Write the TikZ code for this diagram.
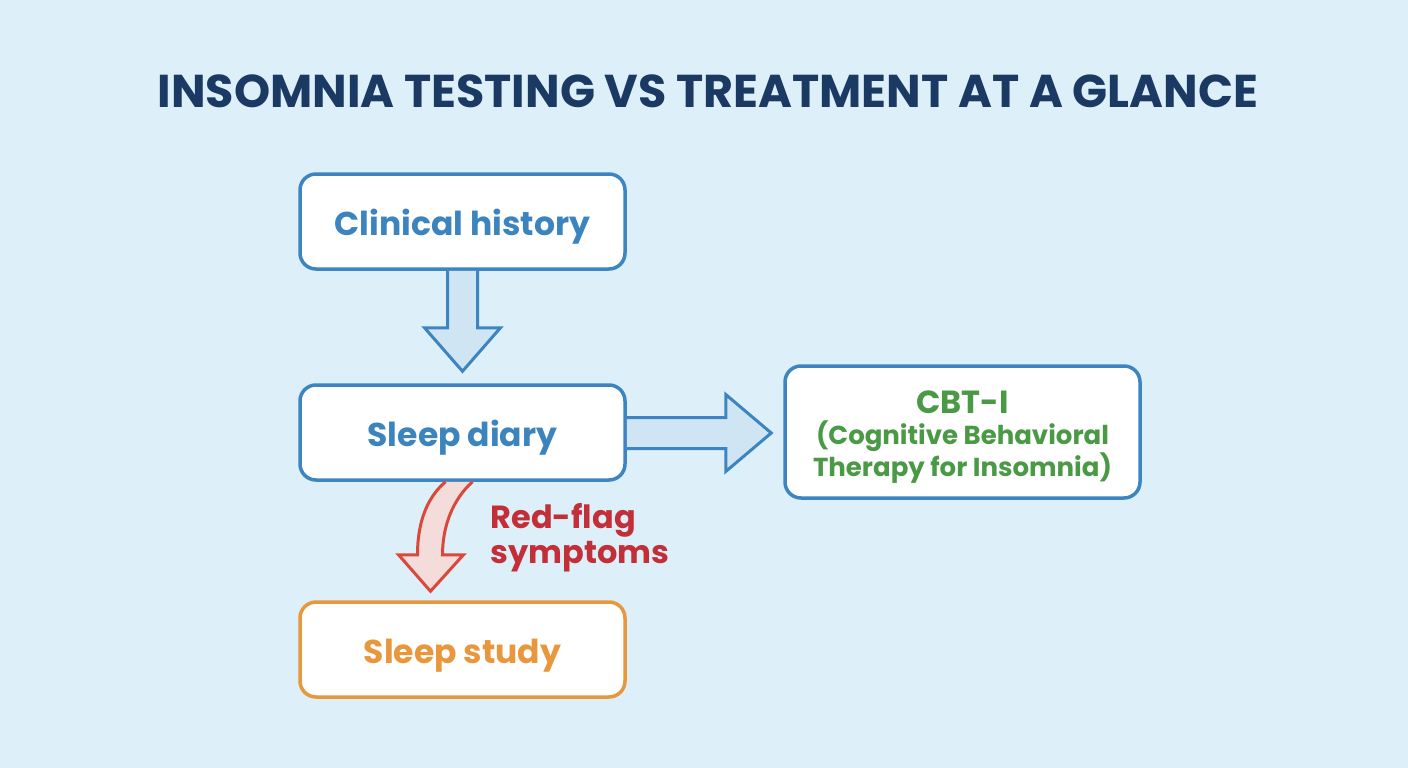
\documentclass[tikz,border=0pt]{standalone}
\usepackage{fontspec}
\setmainfont{Poppins}
\usetikzlibrary{calc, positioning}

\definecolor{bgblue}{HTML}{DDEFF8}
\definecolor{navy}{HTML}{1B3A63}
\definecolor{boxblue}{HTML}{3D85C1}
\definecolor{txtblue}{HTML}{3C84BE}
\definecolor{arrfill}{HTML}{D0E5F3}
\definecolor{orng}{HTML}{E9973C}
\definecolor{grn}{HTML}{4A9A45}
\definecolor{redline}{HTML}{D9483A}
\definecolor{redtxt}{HTML}{C22F38}
\definecolor{pinkfill}{HTML}{F3DCDA}

\begin{document}
\begin{tikzpicture}[x=1pt, y=-1pt,
    stepbox/.style={draw=boxblue, line width=3.5pt, fill=white, rounded corners=16pt,
        minimum width=325pt, minimum height=95pt, text=txtblue,
        text height=34pt, text depth=6pt,
        font=\bfseries\fontsize{33}{38}\selectfont},
    blockarrow/.style={draw=boxblue, line width=3pt, fill=arrfill, line join=miter}
]
    % Fondo
    \fill[bgblue] (0,0) rectangle (1408,768);
    % Titulo
    \node[text=navy, font=\bfseries\fontsize{46}{52}\selectfont] (title) at (708,91)
        {INSOMNIA TESTING VS TREATMENT AT A GLANCE};
    % Cajas
    \node[stepbox] (hist) at (462.5,221.5) {Clinical history};
    \node[stepbox] (diary) at (462.5,432.5) {Sleep diary};
    \node[stepbox, draw=orng, text=orng] (study) at (462.5,649.5) {Sleep study};
    \node[stepbox, minimum width=355pt, minimum height=132pt] (cbt) at (962.5,432) {};
    \node[text=grn, align=center, font=\bfseries\fontsize{26}{30.5}\selectfont]
        (cbttext) at ($(cbt.center)+(0,5)$)
        {{\fontsize{32}{32}\selectfont CBT-I}\\(Cognitive Behavioral\\Therapy for Insomnia)};
    % Flecha hacia abajo
    \coordinate (tipA) at ($(diary.north)+(0,-12)$);
    \draw[blockarrow]
        ($(hist.south)+(-15,0)$) -- ($(hist.south)+(-15,57)$) -- ($(hist.south)+(-38,57)$)
        -- (tipA) -- ($(hist.south)+(38,57)$) -- ($(hist.south)+(15,57)$)
        -- ($(hist.south)+(15,0)$);
    % Flecha hacia la derecha
    \coordinate (tipB) at ($(cbt.west)+(-12,1)$);
    \draw[blockarrow]
        ($(diary.east)+(0,-15)$) -- ($(diary.east)+(99,-15)$) -- ($(diary.east)+(99,-38)$)
        -- (tipB) -- ($(diary.east)+(99,39)$) -- ($(diary.east)+(99,16)$)
        -- ($(diary.east)+(0,16)$);
    % Flecha curva roja
    \coordinate (tipC) at ($(study.north)+(-32,-9)$);
    \draw[draw=redline, line width=3pt, fill=pinkfill, line join=miter]
        ($(diary.south)+(-17,0)$) .. controls ($(diary.south)+(-38,18)$) and ($(diary.south)+(-45,45)$)
        .. ($(diary.south)+(-45,73)$) -- ($(diary.south)+(-64,73)$) -- (tipC)
        -- ($(diary.south)+(1,73)$) -- ($(diary.south)+(-20,73)$)
        .. controls ($(diary.south)+(-20,45)$) and ($(diary.south)+(-10,18)$) .. ($(diary.south)+(10,0)$);
    \node[text=redtxt, align=left, anchor=north west, font=\bfseries\fontsize{32}{35}\selectfont]
        (flag) at (487,500) {Red-flag\\symptoms};
\end{tikzpicture}
\end{document}
